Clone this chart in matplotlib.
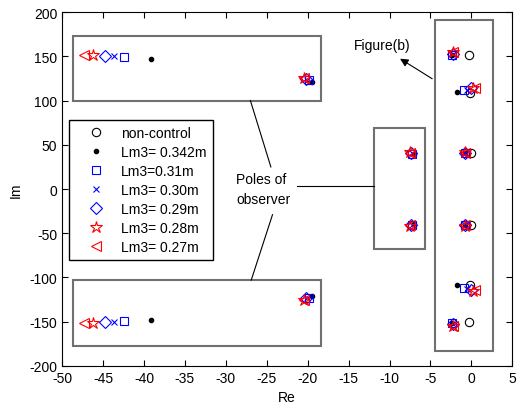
import matplotlib
matplotlib.use('Agg')
import matplotlib.pyplot as plt
from matplotlib.patches import Rectangle

plt.rcParams['font.family'] = ['Liberation Sans', 'DejaVu Sans']
plt.rcParams['font.size'] = 10
plt.rcParams['axes.unicode_minus'] = False

nc_re = [-0.35, -0.35, -0.2, -0.2, -0.05, -0.05]
nc_im = [151, -150, 108.5, -108, 40.5, -40.5]

l342_re = [-39.2, -39.2, -19.5, -19.5, -7.0, -7.0, -1.7, -1.7, -2.4, -2.4, -0.8, -0.8]
l342_im = [147, -148, 121, -121, 40, -40, 110, -109, 151, -152, 40.5, -40.5]

l31_re = [-42.5, -42.5, -19.9, -19.9, -7.2, -7.2, -0.95, -0.95, -2.4, -2.4, -0.75, -0.75]
l31_im = [149, -149, 123, -123, 40, -41, 112, -112, 152, -152, 41, -41]

l30_re = [-43.7, -43.7, -20.1, -20.1, -7.3, -7.3, -0.5, -0.5, -2.3, -2.3, -0.75, -0.75]
l30_im = [150, -150, 123, -123, 41, -41, 112, -113, 153, -153, 41, -41]

l29_re = [-44.8, -44.8, -20.2, -20.2, -7.4, -7.4, 0.0, 0.0, -2.3, -2.3, -0.75, -0.75]
l29_im = [150, -150, 124, -123, 41, -41, 114, -114, 153, -153, 41, -41]

l28_re = [-46.2, -46.2, -20.5, -20.5, -7.5, -7.5, 0.15, 0.15, -2.3, -2.3, -0.8, -0.8]
l28_im = [151, -151, 126, -126, 42, -42, 114, -115, 155, -155, 42, -42]

l27_re = [-47.3, -47.3, -20.4, -20.4, -7.5, -7.5, 0.5, 0.5, -2.3, -2.3, -0.75, -0.75]
l27_im = [151, -151, 125, -125, 41, -41, 114, -114, 155, -155, 41, -41]

labels = ['non-control', 'Lm3= 0.342m', 'Lm3=0.31m', 'Lm3= 0.30m',
          'Lm3= 0.29m', 'Lm3= 0.28m', 'Lm3= 0.27m']

fig = plt.figure(figsize=(5.18, 4.10), dpi=100)
ax = fig.add_axes([0.120, 0.105, 0.869, 0.863])

# zoom boxes
boxes = [(-48.7, 100, 30.3, 73), (-48.7, -177, 30.3, 74),
         (-11.9, -68, 6.2, 137), (-4.4, -183, 7.1, 374)]
for x0, y0, w, h in boxes:
    ax.add_patch(Rectangle((x0, y0), w, h, fill=False, edgecolor='#707070', lw=1.5, zorder=1))

h = []
h += ax.plot(nc_re, nc_im, 'o', mfc='none', mec='k', ms=6, mew=0.8)
h += ax.plot(l342_re, l342_im, '.', color='k', ms=6)
h += ax.plot(l31_re, l31_im, 's', mfc='none', mec='b', ms=6, mew=0.8)
h += ax.plot(l30_re, l30_im, 'x', color='b', ms=5, mew=0.8)
h += ax.plot(l29_re, l29_im, 'D', mfc='none', mec='b', ms=6, mew=0.8)
h += ax.plot(l28_re, l28_im, '*', mfc='none', mec='r', ms=9, mew=0.8)
h += ax.plot(l27_re, l27_im, '<', mfc='none', mec='r', ms=7, mew=0.8)

# annotation lines
ax.plot([-24.5, -27.0], [25, 100], 'k-', lw=0.8)
ax.plot([-24.3, -26.9], [-29, -103], 'k-', lw=0.8)
ax.plot([-21.3, -11.9], [3.4, 3.4], 'k-', lw=0.8)
ax.text(-28.7, 0, 'Poles of\nobserver', ha='left', va='center', linespacing=1.5)
ax.annotate('', xy=(-9.0, 149), xytext=(-4.5, 123),
            arrowprops=dict(arrowstyle='-|>', color='k', lw=0.8, mutation_scale=12))
ax.text(-14.3, 163, 'Figure(b)', ha='left', va='center')

ax.set_xlim(-50, 5)
ax.set_ylim(-200, 200)
ax.set_xticks(range(-50, 6, 5))
ax.set_yticks(range(-200, 201, 50))
ax.tick_params(direction='in', top=True, right=True, length=4)
ax.set_xlabel('Re', labelpad=4)
ax.set_ylabel('Im', labelpad=5)

leg = ax.legend(h, labels, loc='upper left', bbox_to_anchor=(0.015, 0.696),
                borderaxespad=0, fancybox=False, edgecolor='k', framealpha=1,
                handlelength=3.0, handletextpad=0.3, labelspacing=0.36, borderpad=0.45)
leg.get_frame().set_linewidth(1.0)

fig.savefig('out.png', dpi=100)
